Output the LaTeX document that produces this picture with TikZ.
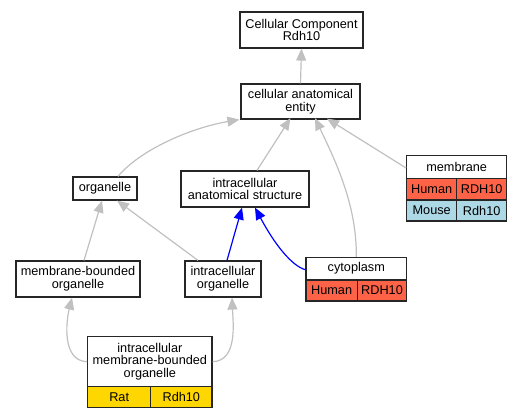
\documentclass[tikz,border=0pt]{standalone}
\usepackage{fontspec}
\setmainfont{Liberation Sans}
\usetikzlibrary{arrows.meta}
\definecolor{edgegray}{RGB}{192,192,192}
\definecolor{tomatoc}{RGB}{255,99,71}
\definecolor{lblue}{RGB}{173,216,230}
\definecolor{goldc}{RGB}{255,215,0}
\tikzset{
  box/.style={draw=black!85, line width=1.2pt, rectangle, inner sep=0pt, align=center, fill=white,
    font=\fontsize{12.7}{12.9}\selectfont},
  gedge/.style={draw=edgegray, line width=1.2pt, -{Triangle[length=12pt,width=10pt]}},
  bedge/.style={draw=blue, line width=1.2pt, -{Triangle[length=12pt,width=10pt]}},
}
\begin{document}
\begin{tikzpicture}[x=1pt,y=-1pt]
\useasboundingbox (0,0) rectangle (521,419);
% nodes
\node[box, minimum width=123pt, minimum height=36pt] (cc) at (301.5,30) {Cellular Component\\Rdh10};
\node[box, minimum width=119pt, minimum height=35pt] (cae) at (300.5,101.5) {cellular anatomical\\entity};
\node[box, minimum width=64pt, minimum height=23pt] (org) at (105,188.5) {organelle};
\node[box, minimum width=128pt, minimum height=36pt] (ias) at (245,189) {intracellular\\anatomical structure};
\node[box, minimum width=124pt, minimum height=36pt] (mbo) at (78,279) {membrane-bounded\\organelle};
\node[box, minimum width=76pt, minimum height=36pt] (io) at (223,279) {intracellular\\organelle};
% membrane table
\node[box, minimum width=100pt, minimum height=22.6pt] (mem) at (456.7,167) {membrane};
\node[box, fill=tomatoc, minimum width=50pt, minimum height=21.7pt] (memh1) at (431.7,189.2) {Human};
\node[box, fill=tomatoc, minimum width=50pt, minimum height=21.7pt] (memh2) at (481.7,189.2) {RDH10};
\node[box, fill=lblue, minimum width=50pt, minimum height=21pt] (memm1) at (431.7,210.5) {Mouse};
\node[box, fill=lblue, minimum width=50pt, minimum height=21pt] (memm2) at (481.7,210.5) {Rdh10};
% cytoplasm table
\node[box, minimum width=100.7pt, minimum height=22.7pt] (cyto) at (356.3,268.7) {cytoplasm};
\node[box, fill=tomatoc, minimum width=51.3pt, minimum height=21pt] (cytoh1) at (331.65,290.5) {Human};
\node[box, fill=tomatoc, minimum width=49.4pt, minimum height=21pt] (cytoh2) at (382,290.5) {RDH10};
% imbo table
\node[box, minimum width=124.3pt, minimum height=50pt] (imbo) at (149.85,361.7) {intracellular\\membrane-bounded\\organelle};
\node[box, fill=goldc, minimum width=63pt, minimum height=21pt] (imbor1) at (119.2,397.2) {Rat};
\node[box, fill=goldc, minimum width=61.3pt, minimum height=21pt] (imbor2) at (181.35,397.2) {Rdh10};
% edges
\draw[gedge] (cae.north) -- (cc.south);
\draw[gedge] ([xshift=13pt]org.north) .. controls (140,150) and (190,128) .. ([xshift=-1pt]cae.south west);
\draw[gedge] ([xshift=12pt]ias.north) -- ([xshift=-10pt,yshift=1.5pt]cae.south);
\draw[gedge] (cyto.north) .. controls (357,205) and (335,160) .. ([xshift=14.5pt,yshift=1.5pt]cae.south);
\draw[gedge] ([yshift=-1pt]mem.west) -- ([xshift=26.5pt,yshift=1pt]cae.south);
\draw[gedge] ([xshift=6pt]mbo.north) -- ([xshift=-3pt]org.south);
\draw[gedge] ([xshift=-25pt]io.north) -- ([xshift=12pt]org.south);
\draw[bedge] ([xshift=4pt]io.north) -- ([xshift=-3pt]ias.south);
\draw[bedge] ([yshift=-1pt]cyto.west) .. controls (292,266) and (275,245) .. ([xshift=10pt]ias.south);
\draw[gedge] (imbo.west) .. controls (62,361) and (66,322) .. ([xshift=-6pt]mbo.south);
\draw[gedge] (imbo.east) .. controls (238,361) and (233,322) .. ([xshift=9pt]io.south);
\end{tikzpicture}
\end{document}
